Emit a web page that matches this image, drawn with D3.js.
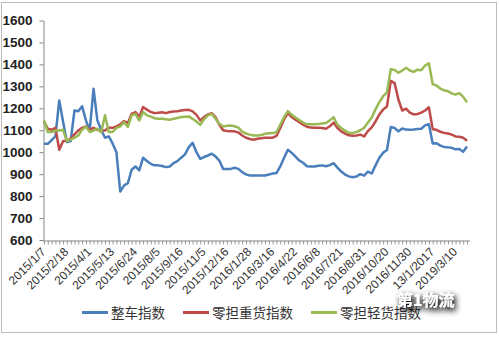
<!DOCTYPE html>
<html><head><meta charset="utf-8">
<script src="https://cdn.jsdelivr.net/npm/d3@7"></script>
<style>body{margin:0;background:#fff}svg{display:block}</style>
</head><body>
<svg id="c" width="499" height="337"></svg>
<script>
// ---- data ----
const tickLabels = ["2015/1/7","2015/2/18","2015/4/1","2015/5/13","2015/6/24","2015/8/5","2015/9/16","2015/11/5","2015/12/16","2016/1/28","2016/3/16","2016/4/22","2016/6/8","2016/7/21","2016/8/31","2016/10/20","2016/11/30","13/1/2017","2019/3/10"];
const labelEvery = 6;
const seriesNames = ["整车指数","零担重货指数","零担轻货指数"];
const truckIndex = [
1038,1038,1055,1072,1236,1140,1046,1051,1190,1187,1209,1145,1099,1289,1145,1102,1066,1072,1040,1000,821,848,859,920,935,917,975,960,
947,940,940,937,932,935,950,959,975,990,1023,1043,1000,970,978,985,993,981,962,924,923,924,929,924,909,899,894,894,
894,894,894,898,903,905,935,975,1011,997,980,962,952,936,935,935,938,940,936,941,950,930,912,898,890,886,889,900,
893,912,903,940,975,998,1010,1115,1110,1095,1108,1103,1102,1103,1106,1107,1122,1127,1040,1041,1030,1024,1022,1020,1013,1015,1002,1026];
const heavyIndex = [
1140,1107,1102,1111,1011,1050,1054,1061,1081,1099,1111,1117,1102,1111,1102,1099,1099,1111,1111,1117,1127,1142,1133,1175,1183,1160,1206,1194,
1184,1178,1180,1182,1178,1183,1185,1187,1190,1192,1193,1186,1170,1145,1160,1172,1178,1160,1125,1100,1097,1096,1095,1090,1076,1066,1060,1057,
1061,1064,1066,1066,1066,1074,1110,1150,1178,1160,1148,1137,1125,1116,1112,1111,1111,1110,1107,1118,1135,1110,1095,1085,1077,1075,1076,1080,
1072,1096,1113,1140,1172,1195,1208,1325,1315,1240,1190,1198,1180,1172,1174,1180,1190,1205,1105,1102,1093,1088,1085,1080,1072,1070,1066,1052];
const lightIndex = [
1145,1092,1092,1099,1099,1102,1051,1057,1066,1076,1102,1117,1092,1099,1107,1090,1168,1092,1092,1111,1117,1137,1115,1168,1175,1145,1183,1168,
1162,1155,1152,1152,1150,1148,1152,1156,1160,1162,1163,1152,1140,1125,1150,1168,1175,1152,1130,1117,1120,1122,1118,1112,1094,1085,1080,1076,
1076,1078,1084,1086,1087,1091,1125,1160,1187,1170,1158,1146,1135,1127,1127,1127,1129,1131,1133,1145,1160,1125,1110,1098,1088,1088,1092,1100,
1111,1135,1158,1195,1228,1255,1272,1378,1375,1362,1372,1385,1372,1366,1376,1373,1395,1405,1310,1304,1290,1282,1278,1268,1262,1269,1252,1228];
const yTicks = [600,700,800,900,1000,1100,1200,1300,1400,1500,1600];
const colors = ["#4A7EBB","#BE4B48","#98B954"];

// ---- chart ----
const svg = d3.select("#c");
const n = truckIndex.length;
const idx = d3.range(n);
const x = d3.scalePoint().domain(idx).range([44, 467]);
const y = d3.scaleLinear().domain([600, 1600]).range([240, 20.5]);

svg.append("rect").attr("x",1.5).attr("y",2.5).attr("width",495).attr("height",330)
  .attr("fill","#fff").attr("stroke","#bcbcbc");

// y axis
const ya = svg.append("g").attr("transform","translate(43.5,0)")
  .call(d3.axisLeft(y).tickValues(yTicks).tickSize(4).tickSizeOuter(0).tickPadding(7).tickFormat(d3.format("d")));
ya.select(".domain").attr("stroke","#868686");
ya.selectAll(".tick line").attr("stroke","#868686");
ya.selectAll("text").attr("font-family","Liberation Sans, Arial, sans-serif")
  .attr("font-size","13.5px").attr("font-weight","bold").attr("fill","#222");

// x axis
const xa = svg.append("g").attr("transform","translate(0,240.5)")
  .call(d3.axisBottom(x).tickValues(idx).tickSize(4).tickSizeOuter(0)
    .tickFormat(i => i % labelEvery === 0 ? (tickLabels[i / labelEvery] || "") : ""));
xa.select(".domain").attr("stroke","#868686").attr("d","M43,0.5H470");
xa.selectAll(".tick line").attr("stroke","#9a9a9a");
xa.selectAll("text")
  .attr("font-family","Liberation Sans, Arial, sans-serif")
  .attr("font-size","12px").attr("fill","#333")
  .attr("text-anchor","end").attr("x",0).attr("y",0).attr("dy","0.35em")
  .attr("transform","translate(-1,9) rotate(-45)");

// lines
const line = d3.line().x((d,i) => x(i)).y(d => y(d));
[truckIndex, heavyIndex, lightIndex].forEach((s, k) => {
  svg.append("path").datum(s).attr("d", line).attr("fill","none")
    .attr("stroke", colors[k]).attr("stroke-width", 2.5).attr("stroke-linejoin","round");
});

// legend
const legX = [82, 183, 311];
seriesNames.forEach((name, k) => {
  svg.append("line").attr("x1", legX[k]).attr("x2", legX[k] + 26).attr("y1", 312.5).attr("y2", 312.5)
    .attr("stroke", colors[k]).attr("stroke-width", 3);
  svg.append("text").attr("x", legX[k] + 29).attr("y", 317.5).text(name)
    .attr("font-family","Noto Sans CJK SC, sans-serif").attr("font-size","13.5px").attr("fill","#333");
});

// watermark
const defs = svg.append("defs");
const f = defs.append("filter").attr("id","sh").attr("x","-30%").attr("y","-60%").attr("width","170%").attr("height","230%");
f.append("feGaussianBlur").attr("in","SourceAlpha").attr("stdDeviation",3).attr("result","b");
f.append("feOffset").attr("in","b").attr("dx",2).attr("dy",3).attr("result","o");
f.append("feComponentTransfer").attr("in","o").attr("result","s").append("feFuncA").attr("type","linear").attr("slope",1.4);
const m = f.append("feMerge"); m.append("feMergeNode").attr("in","s"); m.append("feMergeNode").attr("in","SourceGraphic");
svg.append("text").attr("x",397).attr("y",306).text("第1物流")
  .attr("font-family","Noto Sans CJK SC, sans-serif").attr("font-weight","bold")
  .attr("font-size","16px").attr("fill","#fff").attr("filter","url(#sh)");
</script>
</body></html>
